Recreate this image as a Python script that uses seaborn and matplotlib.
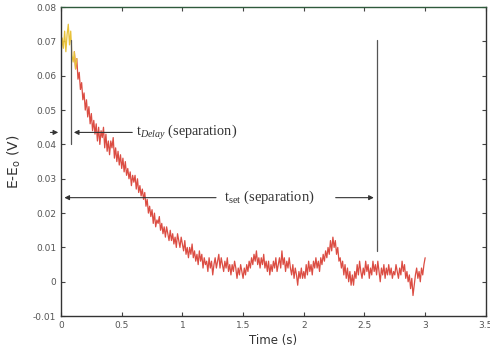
import numpy as np
import pandas as pd
import matplotlib
matplotlib.use("Agg")
import matplotlib.pyplot as plt
import seaborn as sns

# ---- data ----
time_s = np.round(np.arange(0, 301) * 0.01, 3)
voltage = [
    0.066, 0.071, 0.068, 0.073, 0.067, 0.072, 0.075, 0.069, 0.073, 0.066,
    0.064, 0.067, 0.062, 0.065, 0.059, 0.061, 0.056, 0.058, 0.053, 0.055,
    0.050, 0.053, 0.048, 0.051, 0.046, 0.049, 0.044, 0.047, 0.043, 0.046,
    0.041, 0.045, 0.040, 0.044, 0.042, 0.045, 0.039, 0.043, 0.038, 0.041,
    0.037, 0.041, 0.039, 0.042, 0.036, 0.039, 0.035, 0.038, 0.034, 0.037,
    0.033, 0.036, 0.032, 0.035, 0.031, 0.033, 0.030, 0.032, 0.028, 0.031,
    0.029, 0.031, 0.027, 0.030, 0.026, 0.028, 0.025, 0.027, 0.024, 0.026,
    0.022, 0.024, 0.020, 0.022, 0.019, 0.021, 0.017, 0.020, 0.016, 0.018,
    0.017, 0.019, 0.015, 0.017, 0.014, 0.016, 0.013, 0.016, 0.014, 0.012,
    0.015, 0.012, 0.014, 0.011, 0.013, 0.010, 0.014, 0.012, 0.010, 0.013,
    0.011, 0.009, 0.012, 0.008, 0.010, 0.007, 0.010, 0.008, 0.011, 0.007,
    0.009, 0.006, 0.008, 0.005, 0.009, 0.006, 0.008, 0.004, 0.007, 0.005,
    0.006, 0.003, 0.007, 0.004, 0.006, 0.002, 0.005, 0.007, 0.004, 0.006,
    0.008, 0.004, 0.007, 0.005, 0.003, 0.006, 0.004, 0.007, 0.003, 0.005,
    0.002, 0.005, 0.003, 0.006, 0.004, 0.001, 0.004, 0.002, 0.005, 0.003,
    0.001, 0.004, 0.002, 0.005, 0.003, 0.006, 0.004, 0.007, 0.005, 0.008,
    0.006, 0.009, 0.005, 0.007, 0.004, 0.007, 0.005, 0.008, 0.004, 0.006,
    0.003, 0.006, 0.002, 0.005, 0.003, 0.006, 0.004, 0.007, 0.003, 0.005,
    0.007, 0.004, 0.009, 0.005, 0.007, 0.003, 0.006, 0.004, 0.007, 0.004,
    0.002, 0.005, 0.001, 0.004, 0.002, -0.001, 0.003, 0.001, 0.004, 0.001,
    0.003, 0.001, 0.005, 0.002, 0.006, 0.003, 0.005, 0.002, 0.006, 0.004,
    0.007, 0.004, 0.006, 0.003, 0.007, 0.005, 0.008, 0.006, 0.009, 0.007,
    0.010, 0.008, 0.012, 0.009, 0.013, 0.010, 0.012, 0.008, 0.010, 0.006,
    0.007, 0.004, 0.006, 0.002, 0.005, 0.001, 0.004, 0.000, 0.003, -0.001,
    0.002, -0.001, 0.003, 0.001, 0.005, 0.002, 0.006, 0.003, 0.001, 0.004,
    0.002, 0.006, 0.003, 0.005, 0.001, 0.004, 0.002, 0.006, 0.003, 0.005,
    0.002, 0.006, 0.003, 0.000, 0.004, 0.002, 0.005, 0.001, 0.004, 0.002,
    0.005, 0.002, 0.004, 0.001, 0.003, 0.002, 0.005, 0.003, 0.001, 0.004,
    0.002, 0.006, 0.003, 0.005, 0.001, 0.003, 0.000, 0.002, -0.002, 0.001,
    -0.004, -0.001, 0.002, 0.004, 0.001, 0.003, 0.000, 0.004, 0.002, 0.005,
    0.007,
]
x_ticks = [0, 0.5, 1, 1.5, 2, 2.5, 3, 3.5]
x_ticklabels = ["0", "0.5", "1", "1.5", "2", "2.5", "3", "3.5"]
y_ticks = [-0.01, 0, 0.01, 0.02, 0.03, 0.04, 0.05, 0.06, 0.07, 0.08]
y_ticklabels = ["-0.01", "0", "0.01", "0.02", "0.03", "0.04", "0.05", "0.06", "0.07", "0.08"]
t_delay = 0.083
t_set = 2.6
delay_level = 0.0435
set_level = 0.0245

df = pd.DataFrame({"t": time_s, "v": voltage})
early = df[df.t <= 0.13]
late = df[df.t >= 0.11]

sns.set_style("white")
plt.rcParams["mathtext.fontset"] = "custom"
plt.rcParams["mathtext.rm"] = "Liberation Serif"
plt.rcParams["mathtext.it"] = "Liberation Serif:italic"
plt.rcParams["mathtext.sf"] = "DejaVu Sans"

fig = plt.figure(figsize=(4.9, 3.54), dpi=100)
ax = fig.add_axes([0.1245, 0.107, 0.867, 0.873])

sns.lineplot(data=late, x="t", y="v", ax=ax, color="#d8392e", lw=0.9, alpha=0.9)
sns.lineplot(data=early, x="t", y="v", ax=ax, color="#e8c23a", lw=0.9)

ax.set_xlim(0, 3.5)
ax.set_ylim(-0.01, 0.08)
ax.set_xticks(x_ticks)
ax.set_xticklabels(x_ticklabels)
ax.set_yticks(y_ticks)
ax.set_yticklabels(y_ticklabels)
ax.tick_params(direction="in", length=3, width=0.8, labelsize=6.5,
               labelcolor="#555555", color="#444444",
               top=True, right=True, bottom=True, left=True)
for side, sp in ax.spines.items():
    sp.set_color("#333333")
    sp.set_linewidth(1.0)
ax.spines["top"].set_color("#2f5a3c")

ax.set_xlabel("Time (s)", fontsize=8.5, color="#333333", labelpad=3)
ax.set_ylabel(r"E-E$_\mathsf{o}$ (V)", fontsize=10, color="#333333", labelpad=7)

lc = "#555555"
ax.plot([t_delay, t_delay], [0.0705, 0.040], color=lc, lw=0.9)
ax.plot([t_set, t_set], [0.0705, 0.009], color=lc, lw=0.9)

arrow = dict(arrowstyle="-|>", color="#333333", lw=0.8, mutation_scale=7)
ax.annotate("", xy=(t_delay, delay_level), xytext=(0.61, delay_level), arrowprops=arrow)
ax.annotate("", xy=(0.0, delay_level), xytext=(-0.11, delay_level), arrowprops=arrow,
            annotation_clip=False)
ax.text(0.615, delay_level, r"t$_{\mathit{Delay}}$ (separation)", fontsize=10.3,
        family="Liberation Serif", va="center", ha="left", color="#333333")

ax.annotate("", xy=(0.005, set_level), xytext=(1.30, set_level), arrowprops=arrow)
ax.text(1.34, set_level, r"t$_{\mathrm{set}}$ (separation)", fontsize=10.5,
        family="Liberation Serif", va="center", ha="left", color="#333333")
ax.annotate("", xy=(t_set, set_level), xytext=(2.24, set_level), arrowprops=arrow)

fig.savefig("out.png", dpi=100)
